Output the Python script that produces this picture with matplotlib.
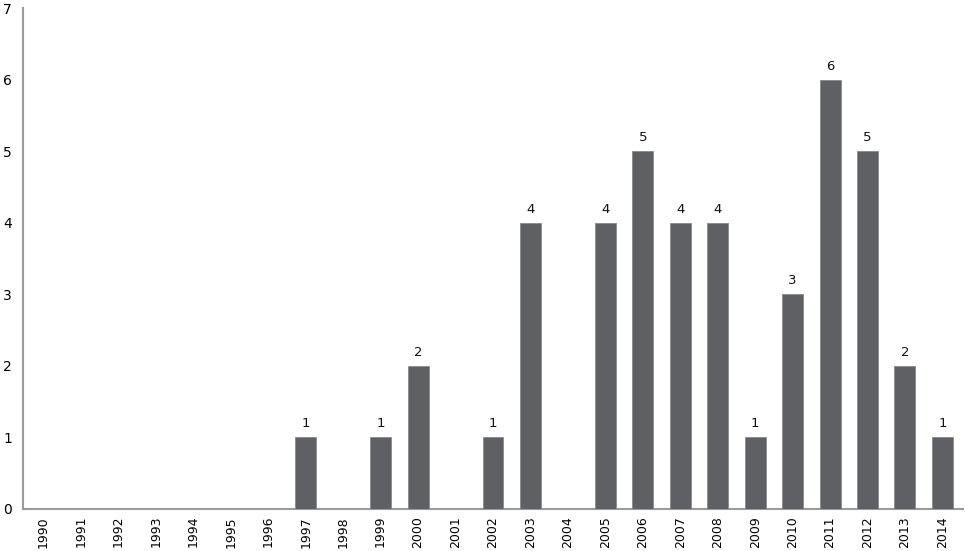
import matplotlib
matplotlib.use("Agg")
import matplotlib.pyplot as plt

years = [str(y) for y in range(1990, 2015)]
counts = [0, 0, 0, 0, 0, 0, 0, 1, 0, 1, 2, 0, 1, 4, 0, 4, 5, 4, 4, 1, 3, 6, 5, 2, 1]
yticks = [0, 1, 2, 3, 4, 5, 6, 7]

fig = plt.figure(figsize=(9.65, 5.51), dpi=100)
ax = fig.add_axes([23/965, 42/551, 940/965, 501/551])

x = list(range(len(years)))
bars = ax.bar(x, counts, width=0.56, color="#5f6064", edgecolor="#8a8b8e", linewidth=0.6, zorder=3)
for xi, v in zip(x, counts):
    if v > 0:
        ax.annotate(str(v), (xi, v), xytext=(0, 5), textcoords="offset points",
                    ha="center", va="bottom", fontsize=9.5, color="#111111")

ax.set_xlim(-0.55, len(years) - 0.45)
ax.set_ylim(0, 7)
ax.set_yticks(yticks)
ax.set_yticklabels([str(t) for t in yticks], fontsize=10)
ax.set_xticks(x)
ax.set_xticklabels(years, rotation=90, fontsize=9)
ax.tick_params(axis="both", length=0, pad=8)
ax.tick_params(axis="x", pad=5)
for s in ["top", "right"]:
    ax.spines[s].set_visible(False)
for s in ["left", "bottom"]:
    ax.spines[s].set_color("#9a9a9a")
    ax.spines[s].set_linewidth(1.5)

fig.savefig("out.png", dpi=100)
